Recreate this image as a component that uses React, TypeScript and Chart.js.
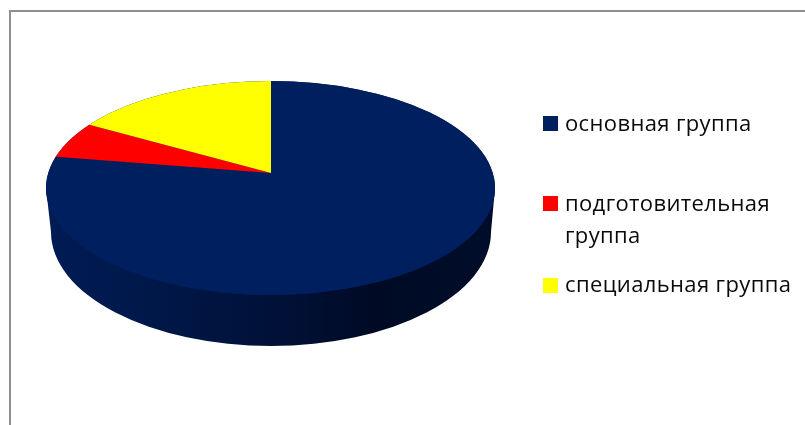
import React, { useEffect, useRef } from "react";
import { Chart, registerables } from "chart.js";

Chart.register(...registerables);

const categories = ["основная группа", "подготовительная группа", "специальная группа"];
const shares = [77.5, 5.6, 16.9];
const sliceColors = ["#001F5F", "#FF0000", "#FFFF00"];
const legendLines = [["основная группа"], ["подготовительная", "группа"], ["специальная группа"]];
const legendBoxY = [116, 196, 278];
const legendBaselines = [[131], [211, 243], [292]];

const apex = { x: 271, y: 173 };
const topFace = { x: 270.5, y: 188, rx: 224.5, ry: 107 };
const bottomFace = { x: 271, y: 232, rx: 220, ry: 114 };

const piePlugin = {
  id: "tiltedPie",
  beforeDraw(chart: any) {
    const { ctx } = chart;
    ctx.save();
    ctx.fillStyle = "#FFFFFF";
    ctx.fillRect(0, 0, chart.width, chart.height);
    ctx.fillStyle = "#8E8E8E";
    ctx.fillRect(9, 10, 2, 415);
    ctx.fillRect(9, 10, 796, 2);
    ctx.restore();
  },
  beforeDatasetsDraw(chart: any) {
    const { ctx } = chart;
    const arc = chart.getDatasetMeta(0).data[0];
    // rim of the disc
    const g = ctx.createLinearGradient(46, 0, 495, 0);
    g.addColorStop(0, "#001C55");
    g.addColorStop(0.25, "#001748");
    g.addColorStop(0.55, "#001035");
    g.addColorStop(0.73, "#000A24");
    g.addColorStop(1, "#000D2A");
    ctx.save();
    ctx.fillStyle = g;
    ctx.beginPath();
    ctx.moveTo(topFace.x - topFace.rx, topFace.y);
    ctx.lineTo(bottomFace.x - bottomFace.rx, bottomFace.y);
    ctx.ellipse(bottomFace.x, bottomFace.y, bottomFace.rx, bottomFace.ry, 0, Math.PI, 0, true);
    ctx.lineTo(topFace.x + topFace.rx, topFace.y);
    ctx.closePath();
    ctx.fill();
    ctx.restore();
    // top face: slices are drawn by Chart.js, squashed and clipped to the tilted disc
    ctx.save();
    ctx.beginPath();
    ctx.ellipse(topFace.x, topFace.y, topFace.rx, topFace.ry, 0, 0, Math.PI * 2);
    ctx.fillStyle = sliceColors[0];
    ctx.fill();
    ctx.clip();
    const sx = 600 / arc.outerRadius;
    const sy = sx * (topFace.ry / topFace.rx);
    ctx.translate(apex.x, apex.y);
    ctx.scale(sx, sy);
    ctx.translate(-arc.x, -arc.y);
  },
  afterDatasetsDraw(chart: any) {
    chart.ctx.restore();
    const { ctx } = chart;
    ctx.save();
    ctx.font = '22px "Open Sans"';
    ctx.textAlign = "left";
    ctx.textBaseline = "alphabetic";
    (ctx as any).letterSpacing = "0.37px";
    legendLines.forEach((lines, i) => {
      ctx.fillStyle = sliceColors[i];
      ctx.fillRect(543, legendBoxY[i], 15, 15);
      ctx.fillStyle = "#0A0A0A";
      lines.forEach((line, j) => ctx.fillText(line, 565, legendBaselines[i][j]));
    });
    ctx.restore();
  },
};

export default function App() {
  const ref = useRef<HTMLCanvasElement>(null);
  useEffect(() => {
    const chart = new Chart(ref.current!, {
      type: "pie",
      data: {
        labels: categories,
        datasets: [{ data: shares, backgroundColor: sliceColors, borderWidth: 0 }],
      },
      options: {
        animation: false,
        responsive: false,
        plugins: { legend: { display: false }, tooltip: { enabled: false } },
      },
      plugins: [piePlugin],
    });
    return () => chart.destroy();
  }, []);
  return (
    <div style={{ position: "fixed", left: 0, top: 0, width: 805, height: 425 }}>
      <canvas ref={ref} width={805} height={425} style={{ display: "block" }} />
    </div>
  );
}
